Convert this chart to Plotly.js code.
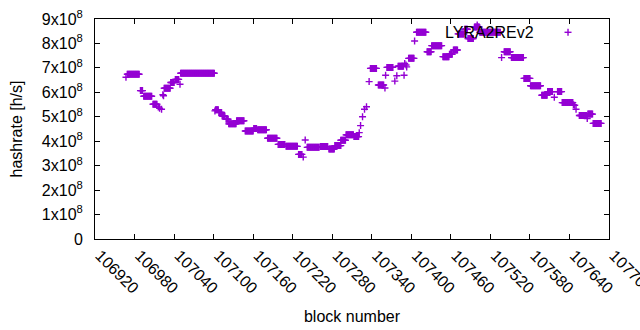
<!DOCTYPE html>
<html>
<head>
<meta charset="utf-8">
<script src="https://cdn.plot.ly/plotly-3.0.1.min.js"></script>
<style>html,body{margin:0;padding:0;background:#fff;}#chart{width:640px;height:330px;}</style>
</head>
<body>
<div id="chart"></div>
<script>
// Runs of consecutive blocks sharing the same estimated hashrate (start block, end block, value in h/s)
const runStart = [106967,106969,106989,106994,107008,107016,107018,107021,107023,107024,107025,107035,107042,107049,107050,107102,107103,107108,107113,107119,107123,107135,107148,107161,107167,107182,107198,107210,107229,107236,107239,107242,107262,107275,107284,107293,107301,107313,107321,107323,107326,107329,107332,107336,107338,107350,107360,107361,107363,107375,107378,107380,107389,107390,107392,107393,107396,107405,107408,107424,107431,107448,107458,107464,107471,107481,107486,107496,107500,107501,107504,107537,107541,107552,107571,107581,107598,107607,107617,107622,107629,107646,107648,107650,107655,107667,107668,107676];
const runEnd   = [106967,106987,106992,107006,107014,107016,107018,107021,107023,107024,107034,107040,107047,107049,107101,107102,107107,107112,107117,107122,107134,107146,107160,107165,107180,107196,107208,107227,107234,107236,107239,107260,107273,107283,107293,107300,107312,107320,107321,107323,107326,107329,107332,107336,107347,107358,107360,107361,107372,107375,107378,107388,107389,107390,107392,107393,107404,107405,107422,107430,107446,107457,107462,107470,107480,107485,107494,107499,107500,107503,107535,107537,107550,107570,107580,107596,107606,107614,107617,107628,107645,107646,107648,107650,107666,107667,107675,107688];
const runHashrate = [6.62e8,6.74e8,6.07e8,5.84e8,5.51e8,5.40e8,5.35e8,5.31e8,5.90e8,5.86e8,6.17e8,6.40e8,6.53e8,6.33e8,6.78e8,5.24e8,5.29e8,5.18e8,5.03e8,4.90e8,4.71e8,4.84e8,4.42e8,4.52e8,4.47e8,4.12e8,3.87e8,3.79e8,3.46e8,3.35e8,4.05e8,3.75e8,3.78e8,3.68e8,3.82e8,4.04e8,4.26e8,4.19e8,4.35e8,4.64e8,5.00e8,5.31e8,5.41e8,6.44e8,6.98e8,6.30e8,6.18e8,6.70e8,7.02e8,6.46e8,6.68e8,7.07e8,6.70e8,7.18e8,7.12e8,7.04e8,7.39e8,8.10e8,8.46e8,7.66e8,7.91e8,7.46e8,7.56e8,7.73e8,8.39e8,8.58e8,8.20e8,8.67e8,8.75e8,8.67e8,8.46e8,7.42e8,7.66e8,7.42e8,6.57e8,6.27e8,5.88e8,6.03e8,5.80e8,6.03e8,5.58e8,5.49e8,5.47e8,5.31e8,5.05e8,4.93e8,5.11e8,4.73e8];

const xTickVals = [106920,106980,107040,107100,107160,107220,107280,107340,107400,107460,107520,107580,107640,107700];
const xTickText = ['106920','106980','107040','107100','107160','107220','107280','107340','107400','107460','107520','107580','107640','107700'];
const yTickVals = [0,1e8,2e8,3e8,4e8,5e8,6e8,7e8,8e8,9e8];
const yTickText = ['0','1x10<sup>8</sup>','2x10<sup>8</sup>','3x10<sup>8</sup>','4x10<sup>8</sup>','5x10<sup>8</sup>','6x10<sup>8</sup>','7x10<sup>8</sup>','8x10<sup>8</sup>','9x10<sup>8</sup>'];
const seriesName = 'LYRA2REv2';

const blocks = [], rates = [];
for (let i = 0; i < runStart.length; i++) {
  for (let b = runStart[i]; b <= runEnd[i]; b++) { blocks.push(b); rates.push(runHashrate[i]); }
}

const purple = '#9400d3';
const font = 'Liberation Sans, Arial, sans-serif';

const trace = {
  type: 'scatter', mode: 'markers', x: blocks, y: rates, name: seriesName, showlegend: false,
  marker: {symbol: 'cross-thin-open', size: 5, color: purple, line: {color: purple, width: 1.4}}
};

const L = 94.5, R = 608.7, T = 19, B = 239;
const pw = R - L, ph = B - T;
const kx = (567.7 - L) / pw, ky = (B - 32.3) / ph;
const dx = 3.5 / pw, dy = 3.5 / ph;

const layout = {
  width: 640, height: 330,
  margin: {l: L, r: 640 - R, t: T, b: 330 - B, pad: 0},
  paper_bgcolor: '#fff', plot_bgcolor: '#fff',
  font: {family: font, size: 16, color: '#000'},
  showlegend: false,
  xaxis: {
    range: [106920, 107700], tickmode: 'array', tickvals: xTickVals, ticktext: xTickText,
    tickangle: 45, ticks: 'inside', ticklen: 5, tickcolor: '#000', mirror: 'ticks',
    showline: true, linecolor: '#000', linewidth: 1, showgrid: false, zeroline: false,
    ticklabeloverflow: 'allow', automargin: false, ticklabelshift: 5,
    tickfont: {family: font, size: 16, color: '#000'},
    title: {text: 'block number', font: {family: font, size: 16, color: '#000'}, standoff: 14}
  },
  yaxis: {
    range: [0, 9e8], tickmode: 'array', tickvals: yTickVals, ticktext: yTickText,
    ticks: 'inside', ticklen: 5, tickcolor: '#000', mirror: 'ticks',
    showline: true, linecolor: '#000', linewidth: 1, showgrid: false, zeroline: false,
    ticklabelstandoff: 8, automargin: false,
    tickfont: {family: font, size: 16, color: '#000'},
    title: {text: 'hashrate [h/s]', font: {family: font, size: 16, color: '#000'}, standoff: 15}
  },
  annotations: [{
    xref: 'paper', yref: 'paper', x: (536 - L) / pw, y: ky, xanchor: 'right', yanchor: 'middle',
    text: seriesName, showarrow: false, font: {family: font, size: 16, color: '#000'}
  }],
  shapes: [
    {type: 'line', xref: 'paper', yref: 'paper', x0: kx - dx, x1: kx + dx, y0: ky, y1: ky, line: {color: purple, width: 1.4}},
    {type: 'line', xref: 'paper', yref: 'paper', x0: kx, x1: kx, y0: ky - dy, y1: ky + dy, line: {color: purple, width: 1.4}}
  ]
};

Plotly.newPlot('chart', [trace], layout, {displayModeBar: false, staticPlot: true});
</script>
</body>
</html>
